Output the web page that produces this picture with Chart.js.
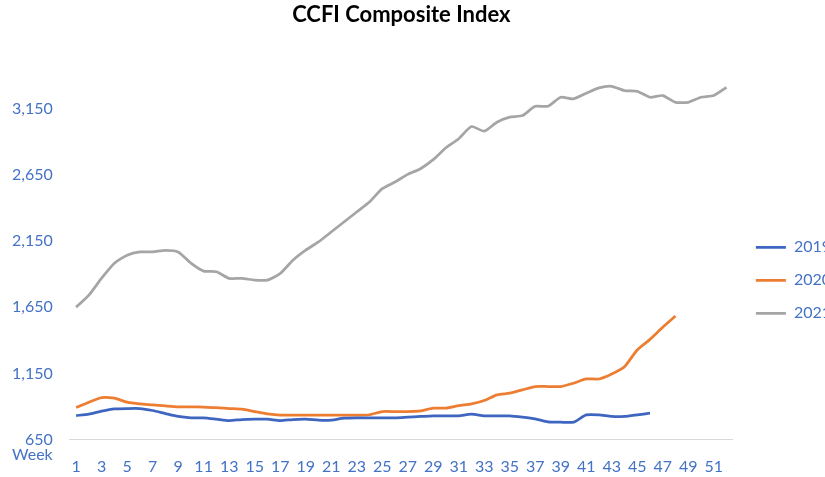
<!DOCTYPE html>
<html lang="en">
<head>
    <meta charset="UTF-8">
    <title>CCFI Composite Index</title>
    <script src="https://cdn.jsdelivr.net/npm/chart.js"></script>
    <style>
        html, body { margin: 0; padding: 0; background: #fff; overflow: hidden; }
        #wrap { width: 825px; height: 477px; }
    </style>
</head>
<body>
    <div id="wrap"><canvas id="ccfiChart"></canvas></div>

    <script>
        const weeks = [1, 2, 3, 4, 5, 6, 7, 8, 9, 10, 11, 12, 13, 14, 15, 16, 17, 18, 19, 20,
            21, 22, 23, 24, 25, 26, 27, 28, 29, 30, 31, 32, 33, 34, 35, 36, 37, 38, 39, 40,
            41, 42, 43, 44, 45, 46, 47, 48, 49, 50, 51, 52];

        const ccfi2019 = [833, 843, 866, 883, 886, 886, 871, 848, 826, 816, 816, 806, 795, 803,
            806, 806, 795, 803, 806, 798, 798, 813, 816, 816, 816, 816, 821, 826, 831, 831,
            831, 843, 831, 831, 831, 821, 808, 786, 783, 783, 838, 838, 826, 826, 838, 851];

        const ccfi2020 = [893, 934, 969, 964, 934, 921, 914, 906, 899, 899, 896, 893, 886, 881,
            863, 846, 836, 836, 836, 836, 836, 836, 836, 839, 863, 863, 863, 868, 889, 889,
            908, 921, 946, 989, 1002, 1027, 1052, 1052, 1052, 1077, 1109, 1109, 1147, 1202,
            1328, 1408, 1499, 1584];

        const ccfi2021 = [1651, 1742, 1870, 1983, 2043, 2068, 2068, 2080, 2068, 1983, 1923, 1918,
            1868, 1868, 1855, 1855, 1905, 2005, 2081, 2143, 2218, 2294, 2369, 2444, 2545, 2595,
            2653, 2696, 2764, 2854, 2922, 3014, 2979, 3047, 3085, 3097, 3167, 3167, 3235, 3223,
            3265, 3306, 3318, 3285, 3280, 3235, 3248, 3197, 3197, 3235, 3248, 3310];

        const yTicks = [650, 1150, 1650, 2150, 2650, 3150];

        const blueText = '#4472C4';
        const fontFamily = 'Lato, "Open Sans", sans-serif';

        // "Week" caption sits under the 650 label, left of the week numbers
        const weekCaption = {
            id: 'weekCaption',
            afterDraw(chart) {
                const { ctx, chartArea } = chart;
                ctx.save();
                ctx.font = '16px ' + fontFamily;
                ctx.fillStyle = blueText;
                ctx.textAlign = 'right';
                ctx.textBaseline = 'middle';
                ctx.fillText('Week', chartArea.left - 17, chartArea.bottom + 15);
                ctx.restore();
            }
        };

        function series(label, data, color) {
            return {
                label: label,
                data: data,
                borderColor: color,
                backgroundColor: color,
                borderWidth: 2.75,
                pointRadius: 0,
                tension: 0.2,
                fill: false
            };
        }

        const ctx = document.getElementById('ccfiChart').getContext('2d');
        new Chart(ctx, {
            type: 'line',
            data: {
                labels: weeks,
                datasets: [
                    series('2019', ccfi2019, '#3E66C0'),
                    series('2020', ccfi2020, '#ED7D31'),
                    series('2021', ccfi2021, '#A5A5A5')
                ]
            },
            options: {
                responsive: true,
                maintainAspectRatio: false,
                animation: false,
                // negative sides let the axis labels and legend sit where the original has them
                layout: { padding: { left: -5, right: -16, top: 0, bottom: -16 } },
                plugins: {
                    title: {
                        display: true,
                        fullSize: false,
                        text: 'CCFI Composite Index',
                        color: '#000',
                        font: { family: fontFamily, size: 22, weight: 'bold' },
                        padding: { top: 2, bottom: 47 }
                    },
                    legend: {
                        position: 'right',
                        fullSize: false,
                        title: { display: true, text: '', padding: { top: 31 } },
                        labels: {
                            usePointStyle: true,
                            pointStyle: 'line',
                            pointStyleWidth: 30,
                            padding: 17,
                            color: blueText,
                            font: { family: fontFamily, size: 16 }
                        }
                    },
                    tooltip: { enabled: false }
                },
                scales: {
                    x: {
                        offset: true,
                        grid: { display: false, drawTicks: false },
                        border: { display: true, color: '#D9D9D9', width: 1 },
                        ticks: {
                            autoSkip: false,
                            maxRotation: 0,
                            padding: 17,
                            color: blueText,
                            font: { family: fontFamily, size: 16 },
                            callback: (val, i) => (i % 2 === 0 ? weeks[i] : '')
                        }
                    },
                    y: {
                        min: 650,
                        max: 3400,
                        grid: { display: false, drawTicks: false },
                        border: { display: false },
                        afterBuildTicks: (scale) => {
                            scale.ticks = yTicks.map(v => ({ value: v }));
                        },
                        ticks: {
                            padding: 17,
                            color: blueText,
                            font: { family: fontFamily, size: 16 },
                            callback: (val) => val.toLocaleString('en-US')
                        }
                    },
                    // empty spacer between plot and legend
                    gap: {
                        type: 'linear',
                        position: 'right',
                        grid: { display: false },
                        border: { display: false },
                        ticks: { display: false },
                        afterFit: (scale) => { scale.width = 6; }
                    }
                }
            },
            plugins: [weekCaption]
        });
    </script>
</body>
</html>
